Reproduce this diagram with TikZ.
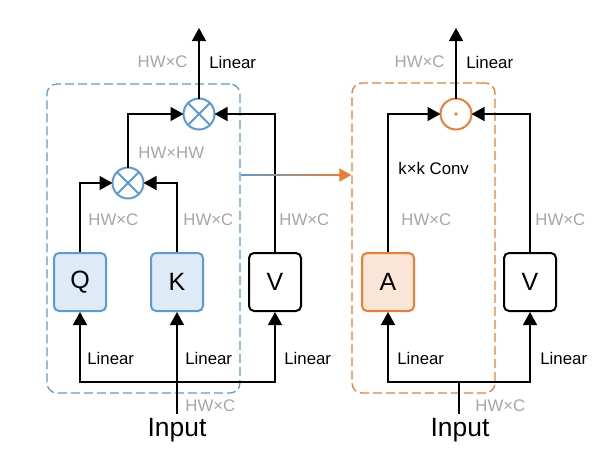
\documentclass[tikz,border=0pt]{standalone}
\usepackage{fontspec}
\setmainfont{Liberation Sans}
\usepackage{tikz}
\usetikzlibrary{arrows.meta, positioning}

\definecolor{blueline}{HTML}{5B9BD5}
\definecolor{bluefill}{HTML}{DEEBF7}
\definecolor{orangeline}{HTML}{ED7D31}
\definecolor{orangefill}{HTML}{FBE5D6}
\definecolor{dimgray}{HTML}{A6A6A6}

\begin{document}
\begin{tikzpicture}[
  x=0.5pt, y=-0.5pt,
  box/.style={draw, rounded corners=2.5pt, minimum width=26pt, minimum height=29pt,
              line width=1pt, inner sep=0pt, font=\fontsize{12.5}{14}\selectfont},
  qkbox/.style={box, draw=blueline, fill=bluefill},
  abox/.style={box, draw=orangeline, fill=orangefill},
  vbox/.style={box, draw=black, fill=white},
  op/.style={circle, draw, line width=1pt, minimum size=15.5pt, inner sep=0pt, outer sep=0pt},
  grp/.style={draw, dash pattern=on 4.5pt off 2pt, rounded corners=5pt, line width=0.65pt,
              inner sep=0pt},
  dim/.style={font=\fontsize{8.4}{10}\selectfont, text=dimgray, inner sep=1pt},
  lbl/.style={font=\fontsize{8.4}{10}\selectfont, inner sep=1pt},
  inp/.style={font=\fontsize{13.2}{15}\selectfont, inner sep=2pt, anchor=north},
  arr/.style={-{Triangle[length=6.5pt, width=7pt]}, line width=0.75pt},
]
  \useasboundingbox (0,0) rectangle (610,468);

  % left: self-attention
  \node[grp, draw=blueline, minimum width=96.5pt, minimum height=154.5pt] (g1) at (143.5,238.5) {};
  \node[qkbox] (q) at (80,282) {Q};
  \node[qkbox] (k) at (177,282) {K};
  \node[vbox] (v1) at (275,282) {V};
  \node[op, draw=blueline] (m1) at (128,183) {};
  \node[op, draw=blueline] (m2) at (199,114) {};
  \draw[blueline, line width=1pt] (m1.north west) -- (m1.south east) (m1.north east) -- (m1.south west);
  \draw[blueline, line width=1pt] (m2.north west) -- (m2.south east) (m2.north east) -- (m2.south west);
  \node[inp] (in1) at (177,414) {Input};
  \coordinate (j1) at (177,382);
  \coordinate (o1) at (199,28);

  \draw[arr] (in1.north) -- (k.south);
  \draw[arr] (j1) -| (q.south);
  \draw[arr] (j1) -| (v1.south);
  \draw[arr] (q.north) |- (m1.west);
  \draw[arr] (k.north) |- (m1.east);
  \draw[arr] (m1.north) |- (m2.west);
  \draw[arr] (v1.north) |- (m2.east);
  \draw[arr] (m2.north) -- (o1);

  \node[dim, anchor=east] at (190,62) {HW×C};
  \node[lbl, anchor=west] at (207,62) {Linear};
  \node[dim, anchor=west] at (136,153) {HW×HW};
  \node[dim, anchor=west] at (86,220) {HW×C};
  \node[dim, anchor=west] at (181,220) {HW×C};
  \node[dim, anchor=west] at (277,220) {HW×C};
  \node[lbl, anchor=west] at (85,358) {Linear};
  \node[lbl, anchor=west] at (183,358) {Linear};
  \node[lbl, anchor=west] at (282,358) {Linear};
  \node[dim, anchor=west] at (183,406) {HW×C};

  % right: attention-free block
  \node[grp, draw=orangeline, minimum width=71.5pt, minimum height=155pt] (g2) at (423.5,238) {};
  \node[abox] (a) at (388,282) {A};
  \node[vbox] (v2) at (530,282) {V};
  \node[op, draw=orangeline] (m3) at (456,114) {};
  \fill[orangeline] (m3) circle (0.9pt);
  \node[inp] (in2) at (460,414) {Input};
  \coordinate (j2) at (459,382);
  \coordinate (o2) at (456,28);

  \draw[line width=0.75pt] (in2.north -| j2) -- (j2);
  \draw[arr] (j2) -| (a.south);
  \draw[arr] (j2) -| (v2.south);
  \draw[arr] (a.north) |- (m3.west);
  \draw[arr] (v2.north) |- (m3.east);
  \draw[arr] (m3.north) -- (o2);

  \node[dim, anchor=east] at (447,62) {HW×C};
  \node[lbl, anchor=west] at (464,62) {Linear};
  \node[lbl, anchor=west] at (396,168) {k×k Conv};
  \node[dim, anchor=west] at (399,220) {HW×C};
  \node[dim, anchor=west] at (533,220) {HW×C};
  \node[lbl, anchor=west] at (395,358) {Linear};
  \node[lbl, anchor=west] at (538,358) {Linear};
  \node[dim, anchor=west] at (473,406) {HW×C};

  % link between the two blocks
  \draw[-{Triangle[length=6pt, width=6.5pt]}, line width=0.75pt, orangeline]
    (g1.east |- 0,175) -- (g2.west |- 0,175);
  \shade[left color=blueline, right color=orangeline]
    (241,174.25) rectangle (339,175.75);
\end{tikzpicture}
\end{document}
